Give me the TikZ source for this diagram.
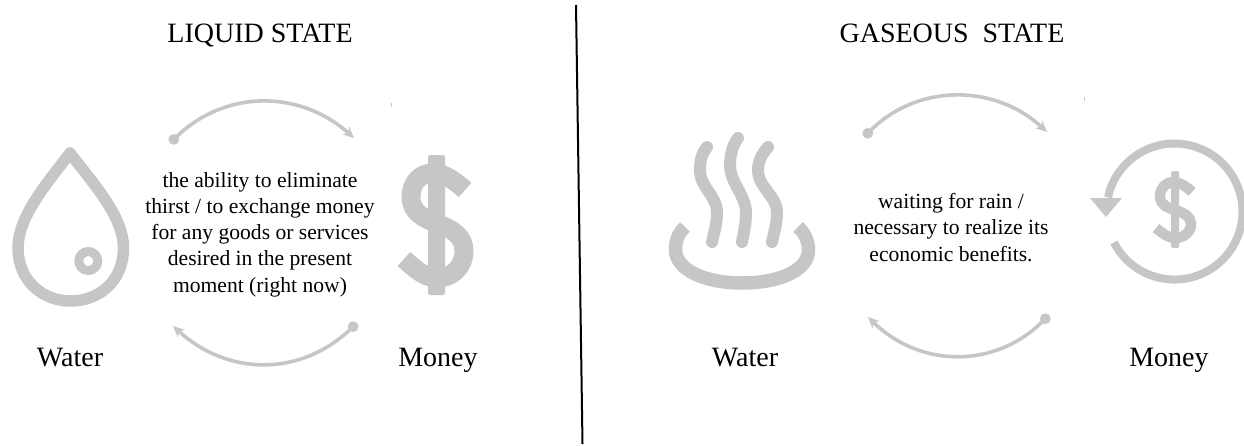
\documentclass[tikz,border=0pt]{standalone}
\usepackage{fontspec}
\setmainfont{Liberation Serif}
\usetikzlibrary{arrows.meta}
\definecolor{icon}{HTML}{C6C6C6}
\tikzset{
  title/.style={font=\fontsize{28}{30}\selectfont,text=black,inner sep=0pt,anchor=base},
  lab/.style={font=\fontsize{28}{30}\selectfont,text=black,inner sep=0pt,anchor=base},
  body/.style={font=\fontsize{21.6}{26.2}\selectfont,text=black,align=center,inner sep=0pt},
  cyc/.style={draw=icon,line width=3.6pt,{Circle[length=10.5pt,width=10.5pt]}-{Stealth[length=11pt,width=10pt,inset=3pt]}},
  ico/.style={draw=icon,line cap=butt,line join=round}
}
\begin{document}
\begin{tikzpicture}[x=1pt,y=-1pt]
\useasboundingbox (0,0) rectangle (1244,445);
% divider
\coordinate (dt) at (576,5); \coordinate (db) at (582.5,444);
\draw[black,line width=2pt] (dt) -- (db);
% titles
\node[title] (t1) at (260,42) {LIQUID STATE};
\node[title] (t2) at (952,42) {GASEOUS\ \ STATE};
% cycle arrows left
\coordinate (a1) at (170,143); \coordinate (a2) at (354,138);
\coordinate (a3) at (357,323); \coordinate (a4) at (173,326);
\draw[cyc] (a1) .. controls (226,89) and (300,90) .. (a2);
\draw[cyc] (a3) .. controls (300,377) and (228,376) .. (a4);
% cycle arrows right
\coordinate (b1) at (864,137); \coordinate (b2) at (1047,132);
\coordinate (b3) at (1049,315); \coordinate (b4) at (868,317);
\draw[cyc] (b1) .. controls (918,83) and (995,84) .. (b2);
\draw[cyc] (b3) .. controls (995,369) and (920,368) .. (b4);
% specks
\fill[icon] (390.5,103) rectangle (391.5,107);
\fill[icon] (1083.5,97) rectangle (1084.5,101);
% body text
\node[body] (m1) at (260,234.5) {the ability to eliminate\\thirst / to exchange money\\for any goods or services\\desired in the present\\moment (right now)};
\node[body] (m2) at (951,227.5) {waiting for rain /\\necessary to realize its\\economic benefits.};
% labels
\node[lab] (w1) at (70,366) {Water};
\node[lab] (d1) at (438,366) {Money};
\node[lab] (w2) at (745,366) {Water};
\node[lab] (d2) at (1169,366) {Money};
% drop
\draw[ico,line width=11.5pt] (70,153) .. controls (50,180) and (18,215) .. (18,248)
  .. controls (18,280) and (42,301) .. (70.5,301)
  .. controls (100,301) and (123.5,280) .. (123.5,248)
  .. controls (123.5,215) and (90,180) .. (70,153) -- cycle;
\draw[ico,line width=9pt] (88.3,261) circle (9.5);
% big dollar
\fill[icon,rounded corners=2pt] (428,155) rectangle (445,295);
\draw[ico,line width=19pt] (465,190) .. controls (452,178) and (442,173) .. (433,173)
  .. controls (420,173) and (411,183) .. (411,197)
  .. controls (411,213) and (425,219) .. (438,224)
  .. controls (452,229) and (464,236) .. (464,251)
  .. controls (464,267) and (452,278) .. (437,278)
  .. controls (425,278) and (415,269) .. (404,259);
% steam
\foreach \tx/\ty/\lx/\ly/\rx/\bx in {707/147/700/170/717/712,738/138/730/165/746/742,768/147/758/170/777/772}{
\draw[ico,line width=12pt,line cap=round] (\tx,\ty) .. controls (\tx-5,\ty+6) and (\lx,\ly-10) .. (\lx,\ly)
  .. controls (\lx,\ly+18) and (\rx,195) .. (\rx,213)
  .. controls (\rx,225) and (\bx+1,236) .. (\bx,242);
}
% basin
\draw[ico,line width=13.5pt] (685,227) .. controls (677,234) and (675.5,243) .. (675.5,250)
  .. controls (676,270) and (705,283) .. (742,283)
  .. controls (780,283) and (808.5,270) .. (808.5,250)
  .. controls (808.5,243) and (806,234) .. (798,227);
% coin arrow
\draw[ico,line width=8pt] (1113.9,242.4) arc[start angle=153,delta angle=-321,radius=68];
\fill[icon] (1090,198) -- (1122,198) -- (1106,217) -- cycle;
% small dollar
\fill[icon,rounded corners=1.5pt] (1171,171) rectangle (1179,248);
\draw[ico,line width=10.5pt] (1192,192) .. controls (1186,186) and (1179,182) .. (1174,182)
  .. controls (1166,182) and (1160,188) .. (1160,196)
  .. controls (1160,205) and (1168,208) .. (1175,210)
  .. controls (1185,213) and (1191,217) .. (1191,224)
  .. controls (1191,232) and (1184,238) .. (1175,238)
  .. controls (1168,238) and (1162,233) .. (1156,228);
\end{tikzpicture}
\end{document}
